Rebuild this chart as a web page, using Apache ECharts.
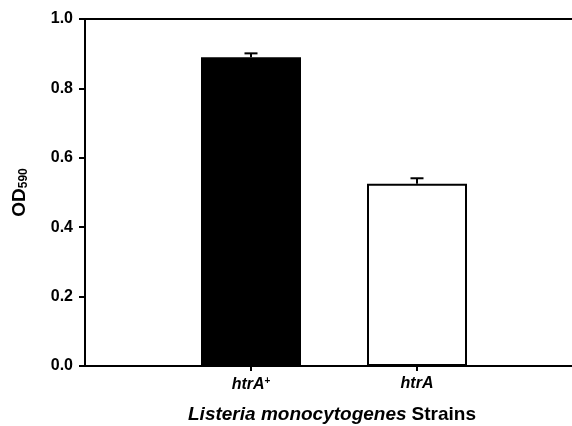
<!DOCTYPE html>
<html><head><meta charset="utf-8">
<script src="https://cdn.jsdelivr.net/npm/echarts@6/dist/echarts.min.js"></script>
<style>html,body{margin:0;padding:0;background:#fff}#c{width:572px;height:426px}</style>
</head><body><div id="c"></div>
<script>
var categories = ['htrA+', 'htrA'];
var values = [0.89, 0.525];
var errors = [0.011, 0.016];
var yTicks = ['0.0', '0.2', '0.4', '0.6', '0.8', '1.0'];
var barColors = ['#000000', '#ffffff'];

var axisData = [''].concat(categories).concat(['']);
var barData = ['-'].concat(values.map(function (v, i) {
  return { value: v, itemStyle: { color: barColors[i] } };
})).concat(['-']);
var errData = categories.map(function (c, i) { return [i + 1, values[i], values[i] + errors[i]]; });

var chart = echarts.init(document.getElementById('c'), null, { renderer: 'canvas' });
var F = '"Liberation Sans", Arial, sans-serif';
chart.setOption({
  animation: false,
  grid: { left: 85, top: 19, width: 498, height: 347, containLabel: false, outerBoundsMode: 'none', show: true, borderColor: '#000', borderWidth: 2, backgroundColor: 'transparent' },
  title: {
    text: '{i|Listeria monocytogenes} {n|Strains}',
    left: 327, top: 400, textAlign: 'center',
    textStyle: { rich: {
      i: { fontFamily: F, fontSize: 19, fontWeight: 'bold', fontStyle: 'italic', color: '#000' },
      n: { fontFamily: F, fontSize: 19, fontWeight: 'bold', color: '#000' }
    } }
  },
  xAxis: {
    type: 'category', data: axisData, boundaryGap: false,
    axisLine: { lineStyle: { color: '#000', width: 2 } },
    axisTick: { length: 5, lineStyle: { color: '#000', width: 2 }, interval: function (idx) { return idx === 1 || idx === 2; } },
    axisLabel: {
      interval: 0, margin: 10,
      formatter: function (v) {
        if (!v) return '';
        if (v.slice(-1) === '+') return '{i|' + v.slice(0, -1) + '}{s|+}';
        return '{i|' + v + '}';
      },
      rich: {
        i: { fontFamily: F, fontSize: 16, fontWeight: 'bold', fontStyle: 'italic', color: '#000' },
        s: { fontFamily: F, fontSize: 10, fontWeight: 'bold', color: '#000', verticalAlign: 'top', padding: [0, 0, 7, 0] }
      }
    }
  },
  yAxis: {
    type: 'value', min: 0, max: 1, interval: 0.2,
    name: '{a|OD}{b|590}', nameLocation: 'middle', nameGap: 55, nameRotate: 90,
    nameTextStyle: { rich: {
      a: { fontFamily: F, fontSize: 19, fontWeight: 'bold', color: '#000' },
      b: { fontFamily: F, fontSize: 12, fontWeight: 'bold', color: '#000', padding: [9, 0, 0, 0] }
    } },
    splitLine: { show: false },
    axisLine: { show: true, lineStyle: { color: '#000', width: 2 } },
    axisTick: { show: true, length: 6, lineStyle: { color: '#000', width: 2 } },
    axisLabel: {
      margin: 12, fontFamily: F, fontSize: 16, fontWeight: 'bold', color: '#000',
      formatter: function (v) { return yTicks[Math.round(v / 0.2)]; }
    }
  },
  series: [
    {
      type: 'bar', data: barData, barWidth: 100,
      itemStyle: { borderColor: '#000', borderWidth: 2 }
    },
    {
      type: 'custom', data: errData, z: 5,
      renderItem: function (params, api) {
        var x = api.value(0);
        var p0 = api.coord([x, api.value(1)]);
        var p1 = api.coord([x, api.value(2)]);
        var hw = 6.5;
        return { type: 'group', children: [
          { type: 'line', shape: { x1: p0[0], y1: p0[1], x2: p1[0], y2: p1[1] }, style: { stroke: '#000', lineWidth: 2 } },
          { type: 'line', shape: { x1: p1[0] - hw, y1: p1[1], x2: p1[0] + hw, y2: p1[1] }, style: { stroke: '#000', lineWidth: 2 } }
        ] };
      }
    }
  ]
});
</script></body></html>
